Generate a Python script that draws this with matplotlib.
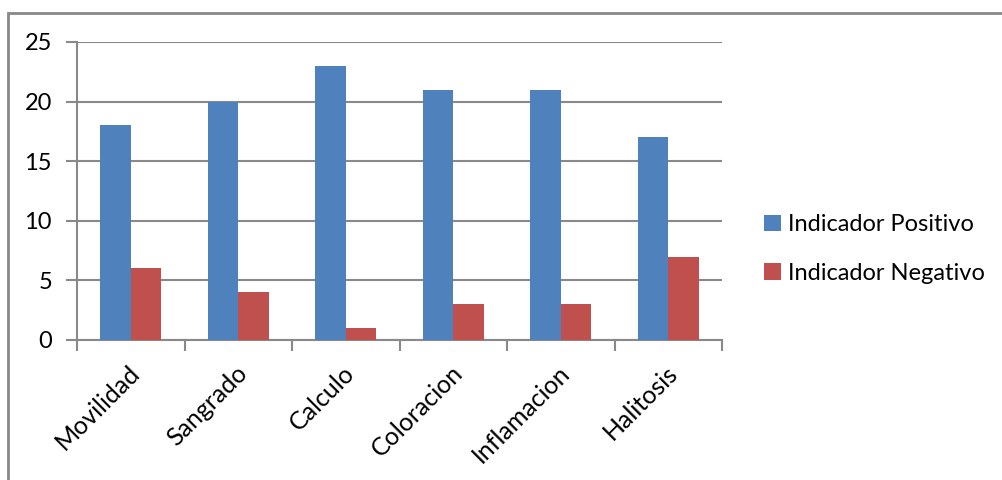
import matplotlib
matplotlib.use("Agg")
import matplotlib.pyplot as plt
import numpy as np
from matplotlib.patches import Rectangle

categories = ["Movilidad", "Sangrado", "Calculo", "Coloracion", "Inflamacion", "Halitosis"]
positivo = [18, 20, 23, 21, 21, 17]
negativo = [6, 4, 1, 3, 3, 7]
series_names = ["Indicador Positivo", "Indicador Negativo"]

BLUE = "#4F81BD"
RED = "#C0504D"
GRID = "#898989"

plt.rcParams["font.family"] = ["Lato", "DejaVu Sans"]

W, H = 1002, 480
fig = plt.figure(figsize=(W / 100, H / 100), dpi=100)

# outer chart frame (runs off the right/bottom edge as in the source)
fig.patches.append(Rectangle((8 / W, -0.05), 1.1, 1 - 13 / H + 0.05,
                             transform=fig.transFigure, fill=False,
                             edgecolor="#888888", linewidth=2))

ax = fig.add_axes([77 / W, 1 - 340 / H, (722 - 77) / W, (340 - 42) / H])

x = np.arange(len(categories))
bw = 1 / 3.5
ax.bar(x - bw / 2, positivo, width=bw, color=BLUE, label=series_names[0], zorder=3)
ax.bar(x + bw / 2, negativo, width=bw, color=RED, label=series_names[1], zorder=3)

ax.set_xlim(-0.5, len(categories) - 0.5)
ax.set_ylim(0, 25)
ax.set_yticks(range(0, 26, 5))
ax.yaxis.grid(True, color=GRID, linewidth=1.5, zorder=0)

for s in ["top", "right"]:
    ax.spines[s].set_visible(False)
for s in ["left", "bottom"]:
    ax.spines[s].set_color(GRID)
    ax.spines[s].set_linewidth(1.5)

# category boundary ticks on x, outside ticks on y
ax.set_xticks(np.arange(len(categories) + 1) - 0.5)
ax.set_xticklabels([])
ax.tick_params(axis="x", direction="out", length=8, width=1.5, color=GRID)
ax.tick_params(axis="y", direction="out", length=8, width=1.5, color=GRID,
               labelsize=17, pad=10)

for i, c in enumerate(categories):
    ax.annotate(c, xy=(i + 0.05, 0), xycoords=("data", "axes fraction"),
                xytext=(0, -21), textcoords="offset points",
                rotation=45, ha="right", va="center", rotation_mode="anchor",
                fontsize=18)

fig.legend(loc="center left", bbox_to_anchor=(743 / W, 1 - 249 / H),
           frameon=False, fontsize=17, handlelength=0.7, handleheight=0.7,
           handletextpad=0.3, labelspacing=1.15)

plt.savefig("out.png", dpi=100)
